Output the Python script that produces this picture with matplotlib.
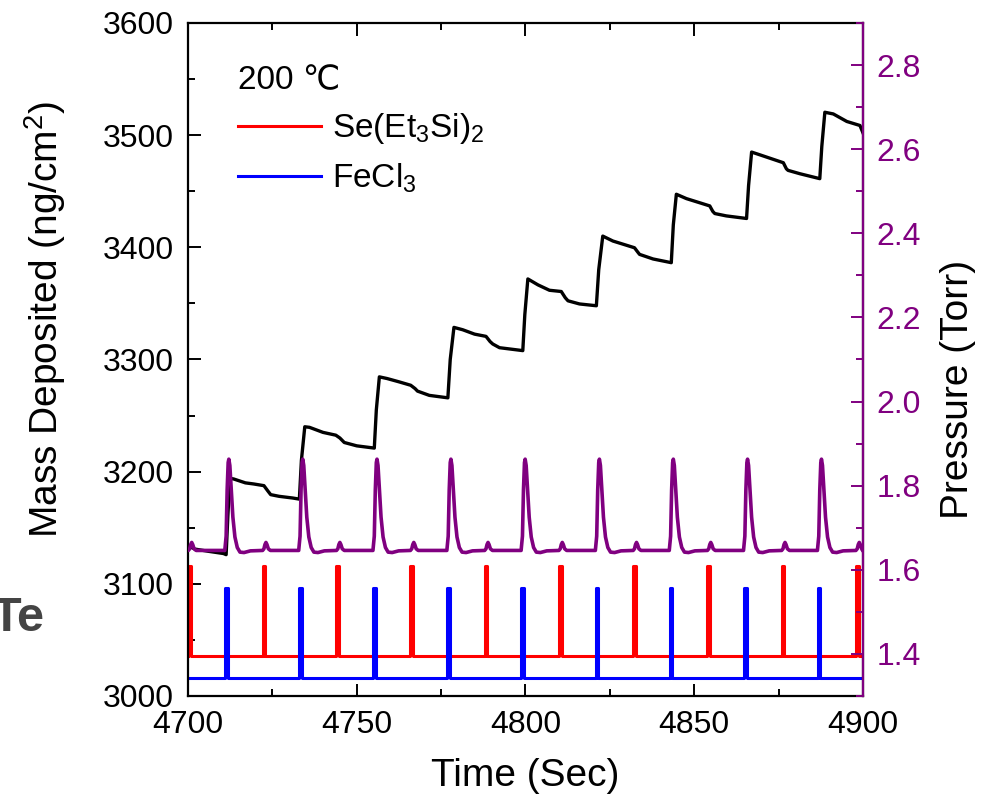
import matplotlib
matplotlib.use('Agg')
import matplotlib.pyplot as plt
from matplotlib.ticker import MultipleLocator

plt.rcParams['font.family'] = ['Liberation Sans', 'DejaVu Sans']
plt.rcParams['mathtext.fontset'] = 'custom'
plt.rcParams['mathtext.rm'] = 'Liberation Sans'
plt.rcParams['mathtext.it'] = 'Liberation Sans:italic'

# QCM mass trace (time in s, mass in ng/cm2)
mass_t = [4700.0, 4702.0, 4706.0, 4710.5, 4711.3, 4711.8, 4712.4, 4713.5, 4715.5, 4717.0,
          4719.5, 4722.5, 4723.6, 4724.5, 4727.0, 4731.0, 4733.0, 4733.6, 4734.6, 4736.0,
          4740.0, 4743.8, 4745.0, 4746.3, 4750.0, 4755.2, 4755.8, 4756.7, 4759.0, 4762.6,
          4766.0, 4767.3, 4768.0, 4771.5, 4777.0, 4777.7, 4778.8, 4781.4, 4784.9, 4788.3,
          4789.5, 4790.3, 4792.3, 4799.2, 4799.8, 4800.7, 4803.7, 4807.1, 4810.6, 4811.8,
          4812.6, 4816.0, 4821.0, 4821.7, 4822.9, 4825.9, 4832.3, 4833.2, 4833.8, 4837.8,
          4843.2, 4843.8, 4844.7, 4847.7, 4854.6, 4855.5, 4856.1, 4859.5, 4865.5, 4866.1,
          4867.0, 4869.4, 4876.4, 4877.3, 4877.8, 4881.3, 4887.2, 4887.8, 4888.7, 4891.2,
          4895.2, 4899.1, 4900.0]
mass_v = [3134, 3131, 3129, 3127, 3126, 3160, 3194, 3193.5, 3191.5, 3190,
          3189, 3187.5, 3183, 3179.5, 3178, 3176.5, 3175.5, 3210, 3240, 3239.5,
          3235, 3232.5, 3230, 3226, 3223, 3221, 3255, 3284.5, 3283, 3280,
          3277, 3274, 3271.8, 3268, 3265.8, 3300, 3328.6, 3326.5, 3322.6, 3320.6,
          3316, 3313.8, 3310.5, 3307.9, 3340, 3371.8, 3366.5, 3361.7, 3360.6, 3355,
          3352.3, 3349.5, 3347.9, 3380, 3410, 3405.6, 3399.6, 3396, 3393.7, 3389.6,
          3386.3, 3420, 3447.3, 3443.4, 3436.9, 3432, 3430.1, 3428, 3425.7, 3455,
          3484.9, 3482.5, 3475.4, 3470, 3468.6, 3465.6, 3461.2, 3490, 3520.4, 3518.9,
          3512.2, 3508.6, 3502]

# valve pulses (start times), drawn on the mass axis
se_start = [4700.1, 4722.1, 4744.0, 4765.9, 4787.9, 4809.9, 4831.9, 4853.9, 4875.9, 4897.9]
fe_start = [4711.0, 4732.9, 4754.9, 4776.8, 4798.8, 4820.8, 4842.7, 4864.7, 4886.6]
pulse_len = 0.8
se_low, se_high = 3035.5, 3116.0
fe_low, fe_high = 3015.7, 3096.0

# pressure: one big peak per FeCl3 pulse, a small bump per Se pulse
p_start = 1.652
p_base = 1.645
fe_peak_dt = [-0.1, 0.3, 0.6, 0.9, 1.1, 1.4, 1.8, 2.3, 2.9, 3.6, 4.4, 5.6, 7.5]
fe_peak_p = [1.646, 1.68, 1.79, 1.855, 1.863, 1.848, 1.795, 1.725, 1.678, 1.653, 1.642, 1.641, 1.645]
se_bump_dt = [0.0, 0.4, 0.7, 1.0, 1.3, 1.7, 2.3]
se_bump_p = [1.646, 1.650, 1.660, 1.665, 1.660, 1.650, 1.646]


def pulses(starts, low, high):
    xs, ys = [4700.0], [low]
    for s in starts:
        xs += [s, s, s + pulse_len, s + pulse_len]
        ys += [low, high, high, low]
    xs.append(4900.0)
    ys.append(low)
    return xs, ys


events = [(t, fe_peak_dt, fe_peak_p) for t in fe_start] + [(t, se_bump_dt, se_bump_p) for t in se_start]
events.sort(key=lambda e: e[0])
p_t, p_v = [4699.0], [p_start]
for t0, dts, ps in events:
    for dt, p in zip(dts, ps):
        p_t.append(t0 + dt)
        p_v.append(p)
p_t.append(4900.0)
p_v.append(p_base)

purple = '#800080'
fig = plt.figure(figsize=(9.9, 8.06), dpi=100)
ax = fig.add_axes([0.1899, 0.1365, 0.6818, 0.835])

sx, sy = pulses(se_start, se_low, se_high)
fx, fy = pulses(fe_start, fe_low, fe_high)
ax.plot(sx, sy, color='#ff0000', lw=2.2, label='Se(Et$_3$Si)$_2$')
ax.plot(fx, fy, color='#0000ff', lw=2.2, label='FeCl$_3$')
ax.plot(mass_t, mass_v, color='black', lw=2.4, solid_joinstyle='round')

ax.set_xlim(4700, 4900)
ax.set_ylim(3000, 3600)
ax.xaxis.set_major_locator(MultipleLocator(50))
ax.xaxis.set_minor_locator(MultipleLocator(25))
ax.yaxis.set_major_locator(MultipleLocator(100))
ax.yaxis.set_minor_locator(MultipleLocator(50))
ax.tick_params(which='both', direction='in', top=True, right=False, width=1.4,
               labelsize=23, pad=10)
ax.tick_params(which='major', length=9)
ax.tick_params(which='minor', length=5)
for s in ax.spines.values():
    s.set_linewidth(1.6)
ax.set_xlabel('Time (Sec)', fontsize=28, labelpad=13)
ax.set_ylabel('Mass Deposited (ng/cm$^2$)', fontsize=28)
ax.yaxis.set_label_coords(-0.178, 0.56)

leg = ax.legend(title='200 \u2103', loc='upper left', bbox_to_anchor=(0.074, 0.937),
                frameon=False, fontsize=24, title_fontsize=24, alignment='left',
                borderpad=0, borderaxespad=0, handlelength=2.5, handletextpad=0.33,
                labelspacing=0.45)

ax2 = ax.twinx()
ax2.plot(p_t, p_v, color=purple, lw=2.6, solid_joinstyle='round')
ax2.set_ylim(1.3, 2.9)
ax2.yaxis.set_major_locator(MultipleLocator(0.2))
ax2.yaxis.set_minor_locator(MultipleLocator(0.1))
ax2.tick_params(which='both', direction='in', color=purple, labelcolor=purple,
                width=1.4, labelsize=23, pad=10)
ax2.tick_params(which='major', length=9)
ax2.tick_params(which='minor', length=5)
for k in ['left', 'top', 'bottom']:
    ax2.spines[k].set_visible(False)
ax2.spines['right'].set_color(purple)
ax2.spines['right'].set_linewidth(1.6)
ax2.set_ylabel('Pressure (Torr)', fontsize=28)
ax2.yaxis.set_label_coords(1.114, 0.456)

# edge of the neighbouring panel, cut off in the original
fig.text(-0.009, 0.217, 'Te', fontsize=35, fontweight='bold', color='#444444', va='baseline')

fig.savefig('out.png', dpi=100)
